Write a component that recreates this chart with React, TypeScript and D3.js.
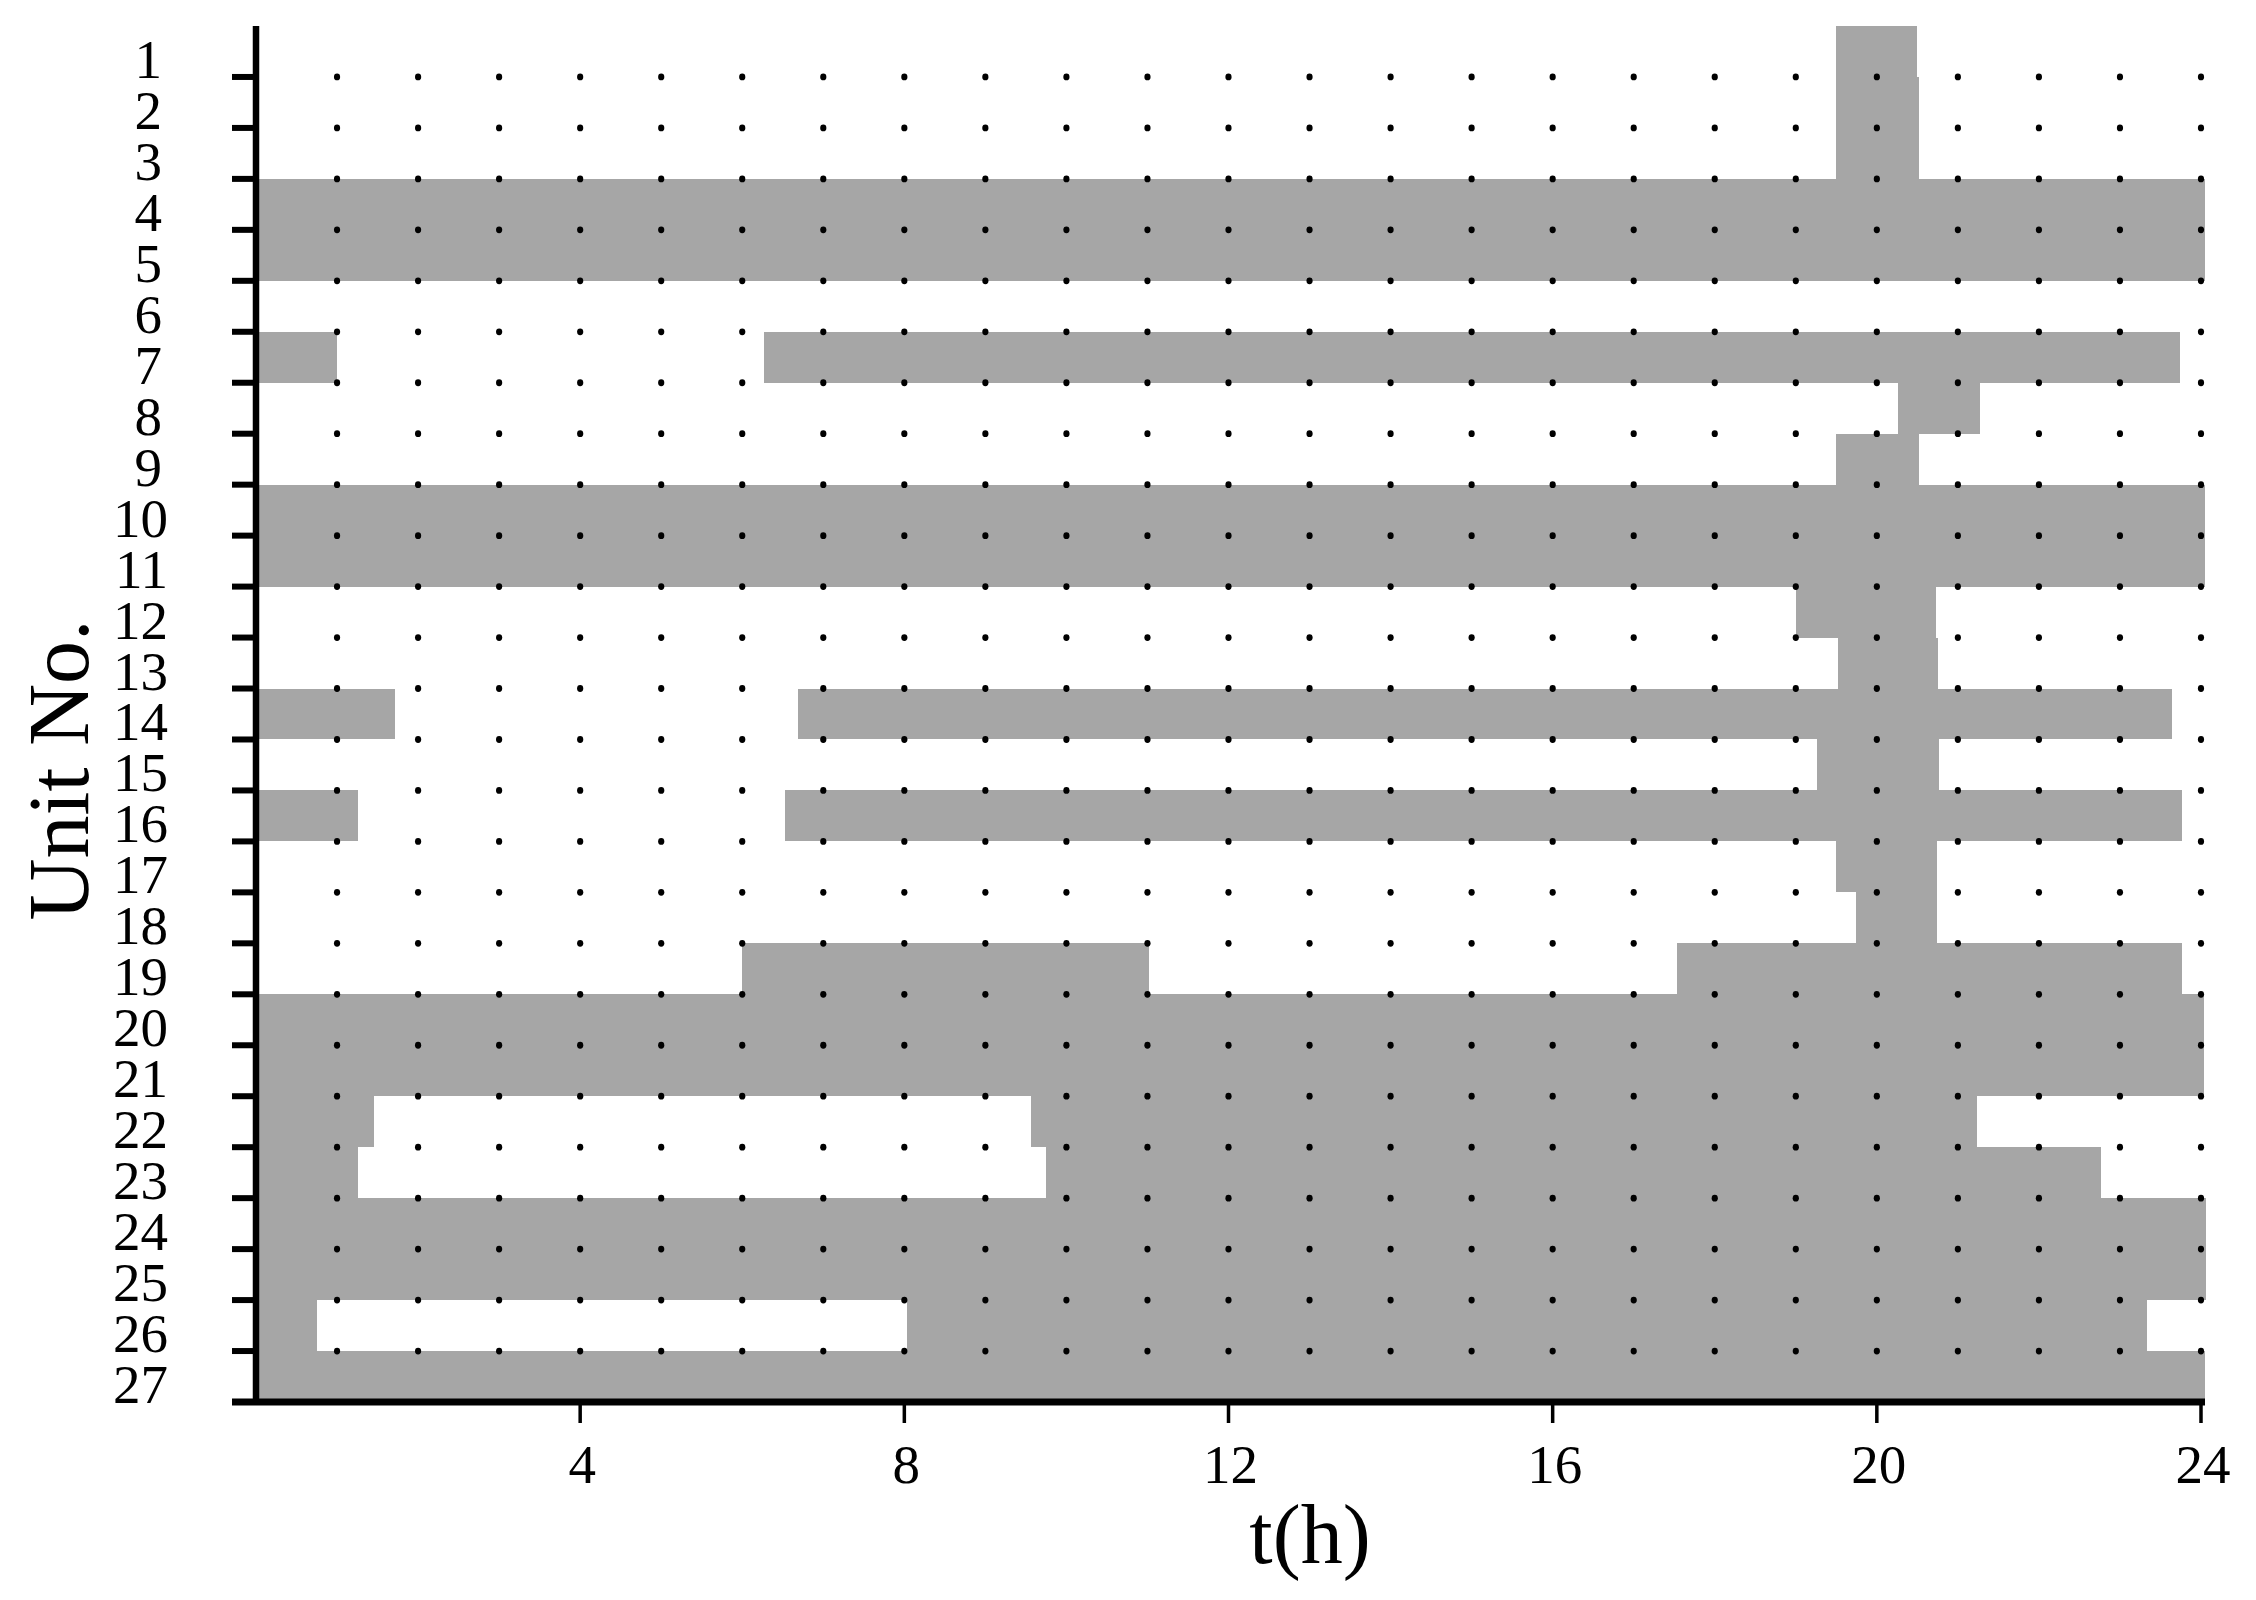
import React from "react";
import * as d3 from "d3";

// Unit numbers (rows)
const units: number[] = d3.range(1, 28);
// On-intervals (hours) for each unit
const unitOnIntervals: [number, number][][] = [
  [[19.5, 20.5]], // 1
  [[19.5, 20.52]], // 2
  [[19.5, 20.52]], // 3
  [[0, 24.05]], // 4
  [[0, 24.05]], // 5
  [], // 6
  [[0, 1.0], [6.27, 23.74]], // 7
  [[20.26, 21.27]], // 8
  [[19.5, 20.52]], // 9
  [[0, 24.05]], // 10
  [[0, 24.05]], // 11
  [[19.0, 20.73]], // 12
  [[19.52, 20.76]], // 13
  [[0, 1.71], [6.69, 23.64]], // 14
  [[19.26, 20.77]], // 15
  [[0, 1.26], [6.53, 23.76]], // 16
  [[19.5, 20.74]], // 17
  [[19.74, 20.74]], // 18
  [[6.0, 11.02], [17.54, 23.77]], // 19
  [[0, 24.04]], // 20
  [[0, 24.04]], // 21
  [[0, 1.46], [9.56, 21.24]], // 22
  [[0, 1.26], [9.75, 22.77]], // 23
  [[0, 24.06]], // 24
  [[0, 24.06]], // 25
  [[0, 0.75], [8.03, 23.33]], // 26
  [[0, 24.05]], // 27
];
const xTickValues: number[] = [4, 8, 12, 16, 20, 24];
const dotHours: number[] = d3.range(1, 25);
const xTitle = "t(h)";
const yTitle = "Unit No.";

const W = 2256;
const H = 1600;
const GRAY = "#a6a6a6";
const FONT = "'Liberation Serif', 'Times New Roman', serif";

export default function App() {
  const x = d3.scaleLinear().domain([0, 24]).range([256, 2201]);
  // tick k (0..27) position; unit k occupies band [k-1, k]
  const y = d3.scaleLinear().domain([0, 27]).range([26, 1402]);

  const rects: { key: string; x0: number; x1: number; u: number }[] = [];
  units.forEach((u, i) => {
    unitOnIntervals[i].forEach(([a, b], j) => {
      rects.push({ key: `${u}-${j}`, x0: a, x1: b, u });
    });
  });

  const dotRows = d3.range(1, 27);

  return (
    <svg
      width={W}
      height={H}
      style={{ position: "absolute", left: 0, top: 0, background: "#fff" }}
      xmlns="http://www.w3.org/2000/svg"
    >
      <rect x={0} y={0} width={W} height={H} fill="#fff" />
      {/* bars */}
      <g>
        {rects.map((r) => (
          <rect
            key={r.key}
            x={x(r.x0)}
            y={y(r.u - 1)}
            width={x(r.x1) - x(r.x0)}
            height={y(r.u) - y(r.u - 1)}
            fill={GRAY}
            shapeRendering="crispEdges"
          />
        ))}
      </g>
      {/* dot grid */}
      <g fill="#000">
        {dotRows.map((k) =>
          dotHours.map((h) => (
            <ellipse key={`d${k}-${h}`} cx={x(h)} cy={y(k)} rx={3.1} ry={3.4} />
          ))
        )}
      </g>
      {/* y axis */}
      <line x1={x(0)} x2={x(0)} y1={y(0)} y2={y(27) + 3} stroke="#000" strokeWidth={6.5} />
      {units.map((u) => (
        <line key={`yt${u}`} x1={232} x2={x(0) + 3} y1={y(u)} y2={y(u)} stroke="#000" strokeWidth={6} />
      ))}
      {units.map((u) => (
        <text
          key={`yl${u}`}
          x={String(u).length === 1 ? 162 : 168}
          y={y(u) + 1}
          textAnchor="end"
          fontFamily={FONT}
          fontSize={55}
          fill="#000"
        >
          {u}
        </text>
      ))}
      {/* x axis */}
      <line x1={232} x2={x(24) + 4} y1={y(27)} y2={y(27)} stroke="#000" strokeWidth={7} />
      {xTickValues.map((t) => (
        <line key={`xt${t}`} x1={x(t)} x2={x(t)} y1={y(27)} y2={1423} stroke="#000" strokeWidth={3.5} />
      ))}
      {xTickValues.map((t) => (
        <text
          key={`xl${t}`}
          x={x(t) + 2}
          y={1483}
          textAnchor="middle"
          fontFamily={FONT}
          fontSize={55}
          fill="#000"
        >
          {t}
        </text>
      ))}
      {/* titles */}
      <text x={1310} y={1563} textAnchor="middle" fontFamily={FONT} fontSize={84} fill="#000">
        {xTitle}
      </text>
      <text
        transform="translate(88,770) rotate(-90)"
        textAnchor="middle"
        fontFamily={FONT}
        fontSize={86}
        fill="#000"
      >
        {yTitle}
      </text>
    </svg>
  );
}
